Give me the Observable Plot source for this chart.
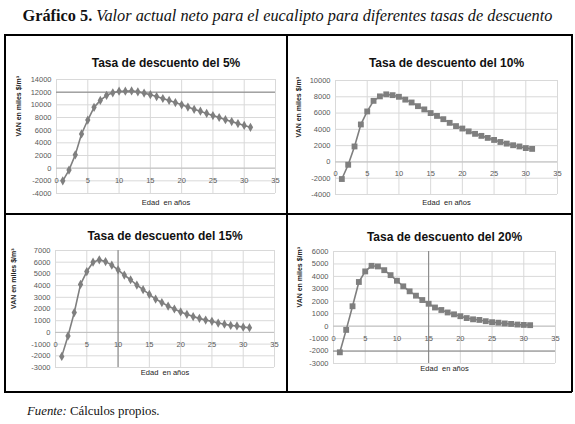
<!DOCTYPE html>
<html><head><meta charset="utf-8">
<script src="https://cdn.jsdelivr.net/npm/d3@7"></script>
<script src="https://cdn.jsdelivr.net/npm/@observablehq/plot@0.6"></script>
<style>
html,body{margin:0;padding:0;background:#fff}
body{width:575px;height:424px;position:relative;overflow:hidden}
#title{position:absolute;top:6px;left:0;width:575px;text-align:center;font-family:"Liberation Serif",serif;font-size:16.3px;color:#111;white-space:nowrap}
#title i{font-style:italic}
.line{position:absolute;background:#000}
.cell{position:absolute}
#caption{position:absolute;left:27px;top:404px;font-family:"Liberation Serif",serif;font-size:12.8px;color:#111}
svg{display:block}
</style>
</head><body>
<div id="title"><b>Gráfico 5.</b> <i>Valor actual neto para el eucalipto para diferentes tasas de descuento</i></div>
<div class="line" style="left:4px;top:34px;width:568px;height:1.5px"></div>
<div class="line" style="left:4px;top:213px;width:568px;height:1.5px"></div>
<div class="line" style="left:4px;top:391px;width:568px;height:1.5px"></div>
<div class="line" style="left:4px;top:34px;width:1.5px;height:358px"></div>
<div class="line" style="left:286px;top:34px;width:1.5px;height:358px"></div>
<div class="line" style="left:571px;top:34px;width:1.5px;height:358px"></div>
<div id="c1" class="cell" style="left:5px;top:35px"></div>
<div id="c2" class="cell" style="left:287px;top:35px"></div>
<div id="c3" class="cell" style="left:5px;top:214px"></div>
<div id="c4" class="cell" style="left:287px;top:214px"></div>
<div id="caption"><i>Fuente:</i> Cálculos propios.</div>
<script>
const ages = [1,2,3,4,5,6,7,8,9,10,11,12,13,14,15,16,17,18,19,20,21,22,23,24,25,26,27,28,29,30,31];
const van5 = [-2000,-300,2100,5400,7600,9600,10700,11500,11900,12150,12150,12200,12050,11850,11600,11300,11000,10700,10350,10000,9650,9300,9000,8650,8300,8000,7650,7350,7050,6750,6450];
const van10 = [-2100,-350,1900,4600,6200,7500,8050,8300,8200,8000,7650,7300,6850,6450,6000,5650,5250,4800,4400,4100,3750,3450,3200,2950,2700,2450,2250,2050,1900,1700,1600];
const van15 = [-2050,-300,1700,4100,5200,6000,6200,6050,5750,5350,4900,4500,4050,3650,3250,2850,2550,2250,2000,1750,1550,1350,1200,1050,950,800,700,600,550,450,400];
const van20 = [-2100,-300,1600,3550,4400,4850,4800,4500,4100,3650,3200,2800,2450,2100,1800,1500,1300,1100,950,800,650,550,500,400,320,280,220,180,130,100,80];
const xTicks = [0,5,10,15,20,25,30,35];
const yTicks5 = [-4000,-2000,0,2000,4000,6000,8000,10000,12000,14000];
const yTicks10 = [-4000,-2000,0,2000,4000,6000,8000,10000];
const yTicks15 = [-3000,-2000,-1000,0,1000,2000,3000,4000,5000,6000,7000];
const yTicks20 = [-3000,-2000,-1000,0,1000,2000,3000,4000,5000,6000];
const titles = ["Tasa de descuento del 5%","Tasa de descuento del 10%","Tasa de descuento del 15%","Tasa de descuento del 20%"];
const xLabel = "Edad  en años";
const yLabel = "VAN en miles $/m³";

function panel(o){
  const data = ages.map((a,i)=>({age:a, van:o.values[i]}));
  const marks = [
    Plot.ruleY(o.yTicks, {stroke:"#d9d9d9", strokeWidth:1}),
    Plot.ruleX(xTicks, {stroke:"#d9d9d9", strokeWidth:1}),
    Plot.ruleY([0], {stroke:"#bfbfbf", strokeWidth:1})
  ];
  if (o.darkY) marks.push(Plot.ruleY(o.darkY, {stroke:"#808080", strokeWidth:1}));
  if (o.darkX) marks.push(Plot.ruleX(o.darkX, {stroke:"#808080", strokeWidth:1}));
  marks.push(
    Plot.line(data, {x:"age", y:"van", stroke:"#7f7f7f", strokeWidth:1.6}),
    Plot.dot(data, {x:"age", y:"van", symbol:o.symbol, r:o.r, fill:"#7f7f7f", stroke:"none"}),
    Plot.text(xTicks, {x:d=>d, y:()=>0, dy:12, text:d=>String(d), fill:"#595959", fontSize:7.5}),
    Plot.text([o.title], {frameAnchor:"top", dy:o.titleY - o.mt, lineAnchor:"middle", fontSize:12, fontWeight:"bold", fill:"#111", fontFamily:"Liberation Sans"}),
    Plot.text([xLabel], {frameAnchor:"bottom", dy:o.xlabY - (o.h - o.mb), lineAnchor:"middle", fontSize:7.5, fill:"#222"}),
    Plot.text([yLabel], {frameAnchor:"left", dx:o.ylabX - o.ml, rotate:-90, lineAnchor:"middle", fontSize:7, fontWeight:"bold", fill:"#222"})
  );
  return Plot.plot({
    width:o.w, height:o.h,
    marginLeft:o.ml, marginRight:o.mr, marginTop:o.mt, marginBottom:o.mb,
    style:{fontFamily:"Liberation Sans", fontSize:"7.5px", color:"#595959", background:"transparent"},
    x:{domain:[0,35], axis:null},
    y:{domain:[o.yTicks[0], o.yTicks[o.yTicks.length-1]], ticks:o.yTicks, tickSize:0, tickPadding:5, tickFormat:d=>String(d), label:null},
    marks
  });
}

document.getElementById("c1").append(panel({title:titles[0], values:van5, yTicks:yTicks5, symbol:"diamond", r:2.8,
  w:281, h:178, ml:51, mr:11, mt:44, mb:20, titleY:28, xlabY:167, ylabX:13, darkY:[12000]}));
document.getElementById("c2").append(panel({title:titles[1], values:van10, yTicks:yTicks10, symbol:"square", r:3.3,
  w:284, h:178, ml:48, mr:14, mt:45, mb:19, titleY:28, xlabY:167, ylabX:11}));
document.getElementById("c3").append(panel({title:titles[2], values:van15, yTicks:yTicks15, symbol:"diamond", r:2.8,
  w:281, h:177, ml:50, mr:12, mt:36, mb:24, titleY:22, xlabY:158, ylabX:8, darkX:[10]}));
document.getElementById("c4").append(panel({title:titles[3], values:van20, yTicks:yTicks20, symbol:"square", r:3.3,
  w:284, h:177, ml:46, mr:16, mt:37, mb:28, titleY:23, xlabY:154, ylabX:12, darkX:[15], darkY:[-2000]}));
</script>
</body></html>
